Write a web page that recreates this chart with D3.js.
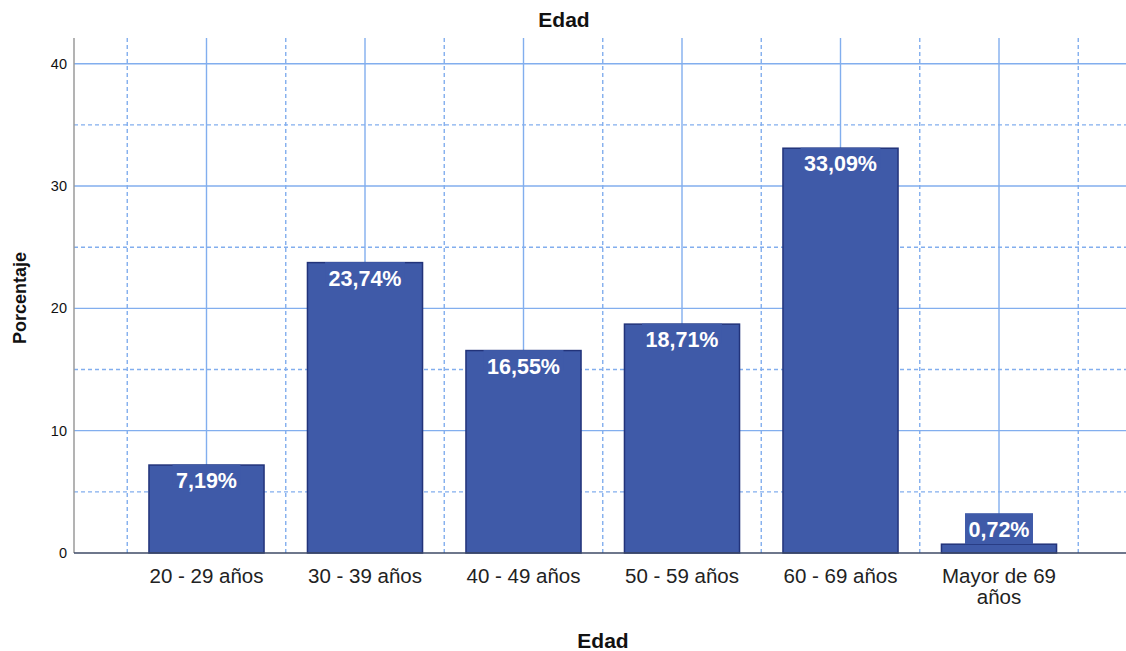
<!DOCTYPE html>
<html>
<head>
<meta charset="utf-8">
<script src="https://cdn.jsdelivr.net/npm/d3@7"></script>
<style>
  html, body { margin: 0; padding: 0; background: #fff; }
  svg { display: block; font-family: "Liberation Sans", Arial, sans-serif; }
</style>
</head>
<body>
<svg id="chart" width="1126" height="651"></svg>
<script>
// Age distribution (percent of respondents)
const categories = ["20 - 29 años", "30 - 39 años", "40 - 49 años", "50 - 59 años", "60 - 69 años", "Mayor de 69 años"];
const categoryLines = [["20 - 29 años"], ["30 - 39 años"], ["40 - 49 años"], ["50 - 59 años"], ["60 - 69 años"], ["Mayor de 69", "años"]];
const percentages = [7.19, 23.74, 16.55, 18.71, 33.09, 0.72];
const valueLabels = ["7,19%", "23,74%", "16,55%", "18,71%", "33,09%", "0,72%"];
const majorTicks = [0, 10, 20, 30, 40];
const minorTicks = [5, 15, 25, 35];

const svg = d3.select("#chart");
const W = 1126, H = 651;
const plot = { left: 74, right: 1126, top: 38, bottom: 553 };

const gridColor = "#82aeee";
const barFill = "#3f5aa8";
const barStroke = "#22337a";

const x = d3.scaleBand()
  .domain(categories)
  .range([127.25, 1078.25])
  .paddingInner(0.274)
  .paddingOuter(0.137);

const y = d3.scaleLinear()
  .domain([0, 42.1])
  .range([plot.bottom, plot.top]);

const step = x.step();
const centers = categories.map(c => x(c) + x.bandwidth() / 2);
// boundaries between categories (dashed vertical grid)
const bounds = d3.range(categories.length + 1).map(i => x.range()[0] + i * step);

const grid = svg.append("g");

// horizontal grid: solid at major ticks, dashed at minor ticks
grid.selectAll("line.hmaj").data(majorTicks.filter(d => d > 0)).join("line")
  .attr("x1", plot.left).attr("x2", plot.right)
  .attr("y1", d => y(d)).attr("y2", d => y(d))
  .attr("stroke", gridColor).attr("stroke-width", 1.4);
grid.selectAll("line.hmin").data(minorTicks).join("line")
  .attr("x1", plot.left).attr("x2", plot.right)
  .attr("y1", d => y(d)).attr("y2", d => y(d))
  .attr("stroke", gridColor).attr("stroke-width", 1.4)
  .attr("stroke-dasharray", "4,3");

// vertical grid: solid at category centers, dashed at boundaries
grid.selectAll("line.vmaj").data(centers).join("line")
  .attr("x1", d => d).attr("x2", d => d)
  .attr("y1", plot.top).attr("y2", plot.bottom)
  .attr("stroke", gridColor).attr("stroke-width", 1.4);
grid.selectAll("line.vmin").data(bounds).join("line")
  .attr("x1", d => d).attr("x2", d => d)
  .attr("y1", plot.top).attr("y2", plot.bottom)
  .attr("stroke", gridColor).attr("stroke-width", 1.4)
  .attr("stroke-dasharray", "4,3");

// bars
const data = categories.map((c, i) => ({ c, v: percentages[i], label: valueLabels[i] }));
svg.append("g").selectAll("rect").data(data).join("rect")
  .attr("x", d => x(d.c))
  .attr("y", d => y(d.v))
  .attr("width", x.bandwidth())
  .attr("height", d => y(0) - y(d.v))
  .attr("fill", barFill)
  .attr("stroke", barStroke)
  .attr("stroke-width", 1.5);

// axes lines
svg.append("line")
  .attr("x1", plot.left).attr("x2", plot.left)
  .attr("y1", plot.top).attr("y2", plot.bottom)
  .attr("stroke", "#9a9a9a").attr("stroke-width", 1.5);
svg.append("line")
  .attr("x1", plot.left).attr("x2", plot.right)
  .attr("y1", plot.bottom).attr("y2", plot.bottom)
  .attr("stroke", "#3e4a66").attr("stroke-width", 1.5);

// value labels with bar-coloured background boxes
const labelG = svg.append("g");
data.forEach(d => {
  const cx = x(d.c) + x.bandwidth() / 2;
  const barH = y(0) - y(d.v);
  const boxH = 31;
  const boxTop = barH < boxH ? y(d.v) - boxH : y(d.v) - 0.5;
  const t = labelG.append("text")
    .attr("x", cx)
    .attr("y", boxTop + 23.5)
    .attr("text-anchor", "middle")
    .attr("fill", "#ffffff")
    .attr("font-size", 21.5)
    .attr("font-weight", "bold")
    .text(d.label);
  const w = t.node().getComputedTextLength() + 7;
  labelG.insert("rect", "text")
    .attr("x", cx - w / 2)
    .attr("y", boxTop)
    .attr("width", w)
    .attr("height", barH < boxH ? boxH : 20)
    .attr("fill", barFill);
});

// y axis tick labels
const yAxis = d3.axisLeft(y).tickValues(majorTicks).tickSize(0).tickPadding(7);
const gy = svg.append("g").attr("transform", `translate(${plot.left},0)`).call(yAxis);
gy.select(".domain").remove();
gy.selectAll("text")
  .attr("font-family", "Liberation Sans, Arial, sans-serif")
  .attr("font-size", 14.5)
  .attr("fill", "#111");

// x axis category labels (wrapped onto lines)
const xAxis = d3.axisBottom(x).tickSize(0).tickPadding(0).tickFormat(() => "");
const gx = svg.append("g").attr("transform", `translate(0,${plot.bottom})`).call(xAxis);
gx.select(".domain").remove();
gx.selectAll(".tick text").each(function(c, i) {
  const t = d3.select(this)
    .attr("font-family", "Liberation Sans, Arial, sans-serif")
    .attr("font-size", 20.5)
    .attr("fill", "#222")
    .attr("y", 30)
    .attr("dy", 0);
  categoryLines[i].forEach((line, k) => {
    t.append("tspan").attr("x", 0).attr("dy", k === 0 ? 0 : 21).text(line);
  });
});

// titles
svg.append("text")
  .attr("x", 564).attr("y", 27)
  .attr("text-anchor", "middle")
  .attr("font-size", 21).attr("font-weight", "bold").attr("fill", "#111")
  .text("Edad");
svg.append("text")
  .attr("x", 603).attr("y", 648)
  .attr("text-anchor", "middle")
  .attr("font-size", 21).attr("font-weight", "bold").attr("fill", "#111")
  .text("Edad");
svg.append("text")
  .attr("transform", "translate(26,298) rotate(-90)")
  .attr("text-anchor", "middle")
  .attr("font-size", 18).attr("font-weight", "bold").attr("fill", "#111")
  .text("Porcentaje");
</script>
</body>
</html>
